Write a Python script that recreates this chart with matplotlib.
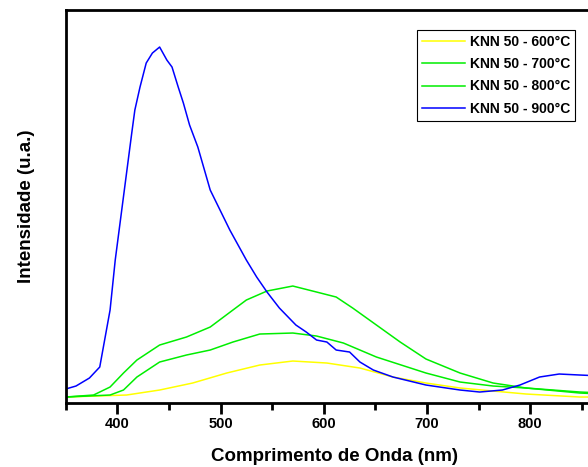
import matplotlib
matplotlib.use('Agg')
import matplotlib.pyplot as plt
from matplotlib.ticker import MultipleLocator

plt.rcParams['font.family'] = ['Liberation Sans', 'DejaVu Sans']
plt.rcParams['font.weight'] = 'bold'

# Dados (intensidade em unidades arbitrarias)
wl_600 = [350, 409, 441, 473, 506, 538, 570, 603, 635, 667, 699, 732, 764, 796, 848, 870]
int_600 = [6, 8, 13, 20, 30, 38, 42, 40, 35, 26, 20, 15, 12, 9, 6, 6]

wl_700 = [350, 393, 406, 419, 441, 467, 490, 512, 538, 570, 593, 619, 651, 699, 732, 764, 796, 848, 870]
int_700 = [6, 8, 13, 26, 41, 48, 53, 61, 69, 70, 67, 60, 46, 30, 21, 17, 15, 10, 9]

wl_800 = [350, 377, 393, 406, 419, 441, 467, 490, 512, 525, 545, 570, 593, 612, 628, 651, 674, 699, 732, 764, 796, 848, 870]
int_800 = [6, 8, 16, 30, 43, 58, 66, 76, 93, 103, 112, 117, 111, 106, 95, 78, 61, 44, 30, 20, 15, 11, 10]

wl_900 = [350, 360, 373, 383, 393, 398, 414, 417, 422, 428, 434, 441, 448, 453, 459, 464, 470, 478,
          490, 509, 525, 535, 545, 557, 573, 583, 593, 603, 612, 625, 635, 648, 667, 699, 732, 751,
          773, 790, 809, 828, 848, 870]
int_900 = [14, 17, 25, 36, 93, 143, 270, 293, 316, 340, 350, 356, 343, 336, 316, 300, 278, 256,
           213, 173, 143, 126, 111, 95, 78, 71, 63, 61, 53, 51, 41, 33, 26, 18, 13, 11,
           13, 18, 26, 29, 28, 27]

fig = plt.figure(figsize=(5.88, 4.67), dpi=100)
ax = fig.add_axes([0.1117, 0.137, 0.913, 0.8415])

ax.plot(wl_600, int_600, color='#ffff00', lw=1.1, label='KNN 50 - 600°C')
ax.plot(wl_700, int_700, color='#00ee00', lw=1.1, label='KNN 50 - 700°C')
ax.plot(wl_800, int_800, color='#00ee00', lw=1.1, label='KNN 50 - 800°C')
ax.plot(wl_900, int_900, color='#0000ff', lw=1.1, label='KNN 50 - 900°C')

ax.set_xlim(350, 870)
ax.set_ylim(0, 393)
ax.xaxis.set_major_locator(MultipleLocator(100))
ax.xaxis.set_minor_locator(MultipleLocator(50))
ax.set_yticks([])
ax.tick_params(axis='x', which='major', direction='out', length=8, width=2, labelsize=10.5, pad=2)
ax.tick_params(axis='x', which='minor', direction='out', length=5, width=2)
for s in ax.spines.values():
    s.set_linewidth(2)

ax.set_xlabel('Comprimento de Onda (nm)', fontsize=13.5, fontweight='bold', labelpad=12)
ax.set_ylabel('Intensidade (u.a.)', fontsize=13.5, fontweight='bold', labelpad=22)

leg = ax.legend(loc='upper left', bbox_to_anchor=(0.709, 0.936), bbox_transform=fig.transFigure,
                borderaxespad=0, fontsize=10, handlelength=3.1, handletextpad=0.4,
                borderpad=0.35, labelspacing=0.6, fancybox=False, framealpha=1,
                edgecolor='black')
leg.get_frame().set_linewidth(0.8)

fig.savefig('out.png', dpi=100)
